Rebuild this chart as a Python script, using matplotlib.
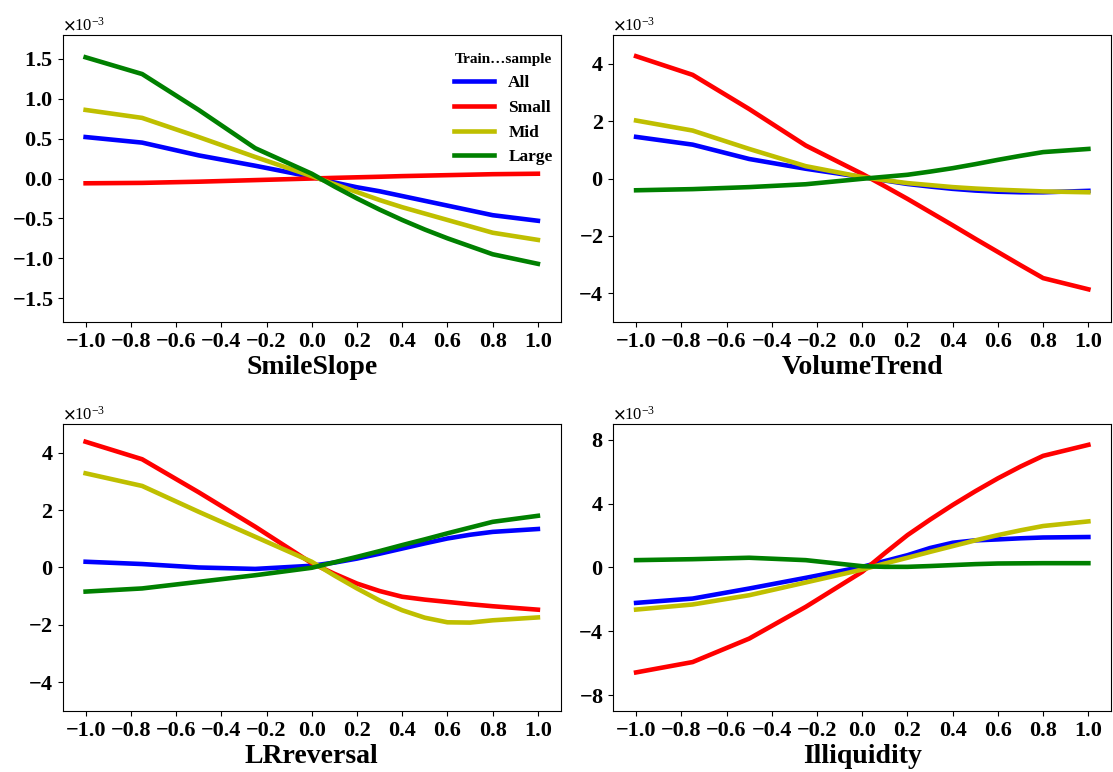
import numpy as np
import matplotlib
matplotlib.use("Agg")
import matplotlib.pyplot as plt
from matplotlib.ticker import MultipleLocator

plt.rcParams['font.family'] = ['Liberation Serif', 'DejaVu Serif']
plt.rcParams['font.weight'] = 'bold'
plt.rcParams['mathtext.fontset'] = 'stix'

# characteristic grid (rank-normalised to [-1, 1])
x = [-1.0, -0.75, -0.5, -0.25, 0.0, 0.1, 0.2, 0.3, 0.4, 0.5, 0.6, 0.7, 0.8, 1.0]
groups = ["All", "Small", "Mid", "Large"]
colors = ["b", "r", "y", "g"]
SCALE = 1e-3

# marginal effects, in units of 1e-3
smile_all = [0.52, 0.45, 0.29, 0.16, 0.02, -0.05, -0.11, -0.16, -0.22, -0.28, -0.34, -0.40, -0.46, -0.53]
smile_small = [-0.06, -0.055, -0.04, -0.02, 0.0, 0.008, 0.015, 0.022, 0.03, 0.036, 0.042, 0.048, 0.054, 0.06]
smile_mid = [0.86, 0.76, 0.52, 0.27, 0.03, -0.07, -0.17, -0.27, -0.36, -0.44, -0.52, -0.60, -0.68, -0.77]
smile_large = [1.52, 1.31, 0.86, 0.38, 0.06, -0.10, -0.25, -0.39, -0.52, -0.64, -0.75, -0.85, -0.95, -1.07]

vol_all = [1.45, 1.18, 0.68, 0.34, 0.05, -0.07, -0.19, -0.28, -0.36, -0.42, -0.46, -0.48, -0.48, -0.43]
vol_small = [4.26, 3.61, 2.42, 1.15, 0.16, -0.27, -0.71, -1.17, -1.63, -2.10, -2.56, -3.02, -3.47, -3.86]
vol_mid = [2.02, 1.67, 1.03, 0.43, 0.05, -0.06, -0.16, -0.23, -0.30, -0.35, -0.39, -0.42, -0.45, -0.48]
vol_large = [-0.41, -0.37, -0.30, -0.20, -0.01, 0.06, 0.13, 0.24, 0.36, 0.50, 0.65, 0.79, 0.92, 1.03]

lr_all = [0.20, 0.12, 0.0, -0.05, 0.06, 0.17, 0.31, 0.48, 0.66, 0.84, 1.01, 1.14, 1.24, 1.34]
lr_small = [4.38, 3.77, 2.62, 1.42, 0.15, -0.22, -0.56, -0.82, -1.02, -1.12, -1.20, -1.28, -1.35, -1.47]
lr_mid = [3.28, 2.84, 1.94, 1.07, 0.20, -0.28, -0.73, -1.15, -1.49, -1.75, -1.91, -1.92, -1.84, -1.74]
lr_large = [-0.84, -0.73, -0.50, -0.27, -0.01, 0.18, 0.37, 0.57, 0.78, 0.98, 1.19, 1.39, 1.59, 1.80]

illiq_all = [-2.22, -1.95, -1.32, -0.65, 0.04, 0.40, 0.77, 1.22, 1.55, 1.70, 1.76, 1.83, 1.88, 1.91]
illiq_small = [-6.58, -5.93, -4.46, -2.47, -0.27, 0.90, 2.03, 3.00, 3.92, 4.78, 5.59, 6.33, 7.00, 7.69]
illiq_mid = [-2.64, -2.32, -1.74, -0.94, -0.13, 0.25, 0.61, 0.98, 1.34, 1.70, 2.03, 2.33, 2.60, 2.89]
illiq_large = [0.46, 0.52, 0.61, 0.46, 0.08, 0.04, 0.04, 0.09, 0.15, 0.21, 0.25, 0.26, 0.27, 0.27]

panels = [
    ("SmileSlope", [smile_all, smile_small, smile_mid, smile_large], 1.8, 0.5),
    ("VolumeTrend", [vol_all, vol_small, vol_mid, vol_large], 5.0, 2.0),
    ("LRreversal", [lr_all, lr_small, lr_mid, lr_large], 5.0, 2.0),
    ("Illiquidity", [illiq_all, illiq_small, illiq_mid, illiq_large], 9.0, 4.0),
]

fig, axes = plt.subplots(2, 2, figsize=(11.13, 7.72), dpi=100)
fig.subplots_adjust(left=0.0566, right=0.9982, bottom=0.079, top=0.9547,
                    wspace=0.1065, hspace=0.355)

for ax, (name, series, ylim, ystep) in zip(axes.flat, panels):
    for label, vals, c in zip(groups, series, colors):
        ax.plot(x, np.array(vals) * SCALE, color=c, lw=3.3, label=label)
    ax.set_ylim(-ylim * SCALE, ylim * SCALE)
    ax.xaxis.set_major_locator(MultipleLocator(0.2))
    ax.yaxis.set_major_locator(MultipleLocator(ystep * SCALE))
    ax.ticklabel_format(axis='y', style='sci', scilimits=(0, 0), useMathText=True)
    ax.tick_params(labelsize=16)
    ax.yaxis.get_offset_text().set_fontsize(12)
    ax.yaxis.get_offset_text().set_fontweight('normal')
    ax.set_xlabel(name, fontsize=20, fontweight='bold', labelpad=2)

axes[0, 0].legend(loc='upper right', frameon=False, fontsize=12.5,
                  title="Train…sample",
                  title_fontproperties={'weight': 'bold', 'size': 11},
                  handlelength=2.3, borderaxespad=0.4, labelspacing=0.5,
                  bbox_to_anchor=(1.012, 0.985))

fig.savefig("out.png", dpi=100)
